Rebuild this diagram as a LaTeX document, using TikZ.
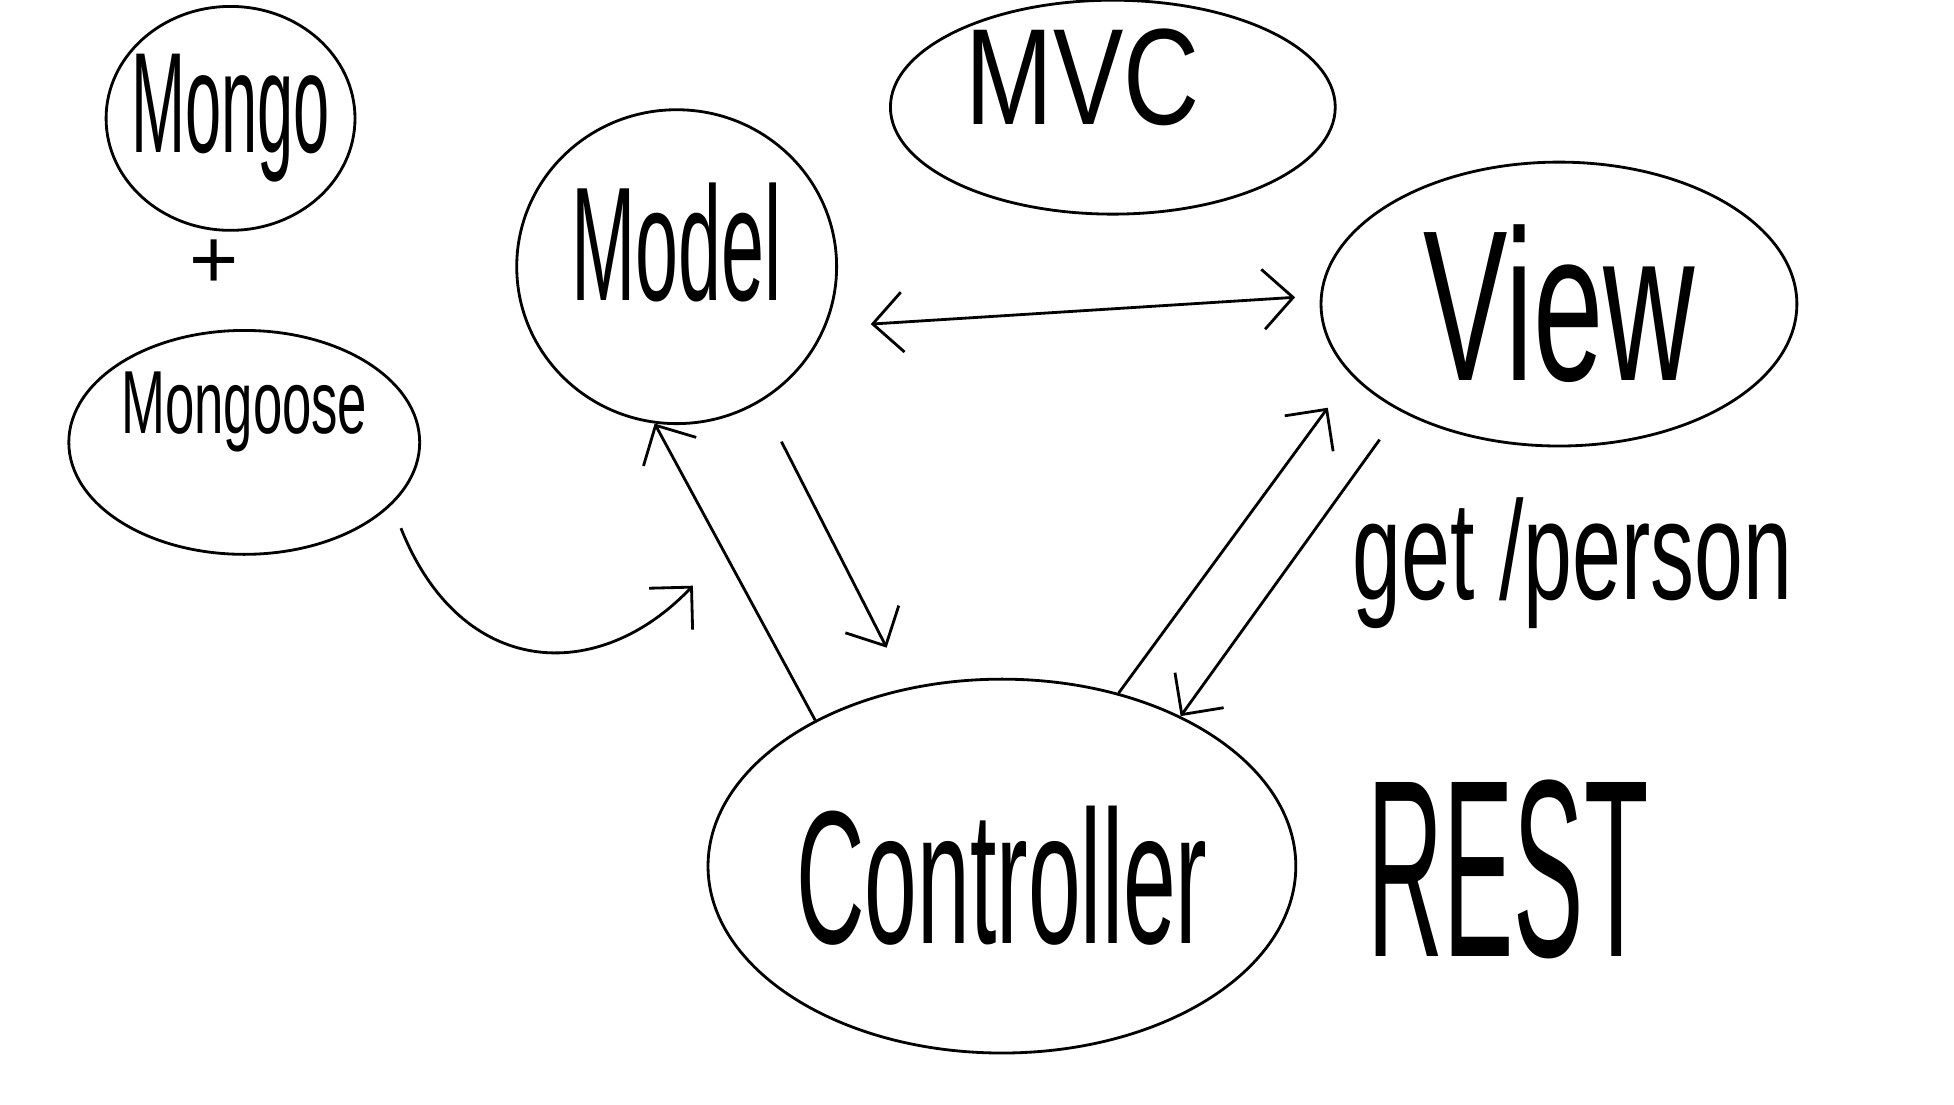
\documentclass[tikz,border=0pt]{standalone}
\usepackage{fontspec}
\setmainfont{Liberation Sans}
\usepackage{graphicx}
\usetikzlibrary{arrows.meta,shapes.geometric}
\newcommand\tallword[2]{\scalebox{1}[#1]{#2}}
\newcommand\fs[1]{\fontsize{#1}{#1}\selectfont}
\tikzset{
  blob/.style={draw,ellipse,line width=.8pt,inner sep=0pt},
  sketcharrow/.style={line width=.8pt,-{Straight Barb[length=3mm,width=6mm]}},
  sketchboth/.style={line width=.8pt,{Straight Barb[length=3mm,width=6mm]}-{Straight Barb[length=3mm,width=6mm]}},
}

\begin{document}
\begin{tikzpicture}[x=0.01246cm,y=-0.01246cm]
  \useasboundingbox (0,0) rectangle (1568,886);
  \node[blob,minimum width=2.49cm,minimum height=2.24cm,
    label={center:\fs{18.5}\tallword{2.2}{Mongo}}] (mongo) at (185,95) {};
  \node[font=\fs{24}] (plus) at (172,212) {+};
  \node[blob,minimum width=3.51cm,minimum height=2.24cm,
    label={[yshift=3mm]center:\fs{15}\tallword{1.7}{Mongoose}}] (mongoose) at (196,355) {};
  \node[blob,minimum width=3.2cm,minimum height=3.14cm,
    label={[yshift=2.4mm]center:\fs{22}\tallword{2.1}{Model}}] (model) at (543,214) {};
  \node[blob,minimum width=4.45cm,minimum height=2.14cm,
    label={[xshift=-3mm,yshift=3mm]center:\fs{30}\tallword{1.3}{MVC}}] (mvc) at (893,86) {};
  \node[blob,minimum width=4.76cm,minimum height=2.84cm,
    label={center:\fs{36}\tallword{1.7}{View}}] (view) at (1251,244) {};
  \node[blob,minimum width=5.88cm,minimum height=3.74cm,
    label={[yshift=-1mm]center:\fs{27}\tallword{2}{Controller}}] (controller) at (804,695) {};
  \node[font=\fs{30}] (rest) at (1210,698) {\tallword{2.4}{REST}};
  \node[font=\fs{25}] (route) at (1262,452) {\tallword{1.6}{get /person}};
  \coordinate (hook) at (556,470);

  \draw[sketchboth,shorten <=4.5mm,shorten >=2.5mm] (model.-22) -- (view.178);
  \draw[sketcharrow] (controller.142) -- (model.-98);
  \draw[sketcharrow,shorten <=4.5mm,shorten >=4.5mm] (model.-58) -- (controller.118);
  \draw[sketcharrow,shorten >=4mm] (controller.56) -- (view.-161);
  \draw[sketcharrow,shorten <=3.5mm] (view.-146) -- (controller.40);
  \draw[sketcharrow,shorten <=2.5mm] (mongoose.-23) .. controls (370,545) and (480,550) .. (hook);
\end{tikzpicture}
\end{document}
